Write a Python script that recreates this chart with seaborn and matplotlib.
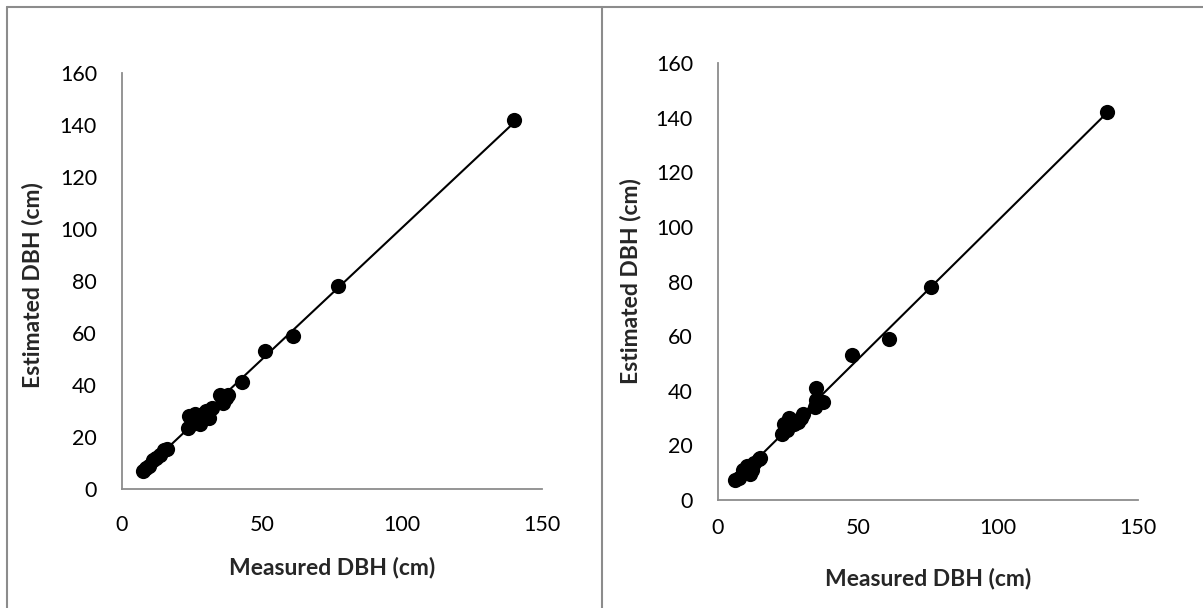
import numpy as np
import pandas as pd
import matplotlib
matplotlib.use('Agg')
import matplotlib.pyplot as plt
from matplotlib.lines import Line2D
import seaborn as sns

# data (measured vs estimated DBH, cm)
measured_a = [7.5, 8.5, 9.5, 11, 12, 13.5, 15, 16, 23.5, 24, 25, 26, 27, 28, 29, 30, 31, 32,
              35, 36, 37, 38, 43, 51, 61, 77, 140]
estimated_a = [7, 8, 9, 11, 12, 13, 15, 15.5, 23.5, 28, 25, 29, 27, 25, 29, 30, 27.5, 31,
               36, 33, 35, 36, 41, 53, 59, 78, 142]

measured_b = [6, 7.5, 9, 10.5, 11.5, 12, 13, 14.5, 15, 23, 23.5, 24.5, 25, 25.5, 27, 28.5, 29.5,
              30.5, 34.5, 35, 35, 37.5, 48, 61, 76, 139]
estimated_b = [7.5, 8, 11, 12.5, 9.5, 11, 13.5, 15, 15.5, 24, 28, 25.5, 27, 30, 28, 28.5, 30,
               31.5, 34, 36.5, 41, 36, 53, 59, 78, 142]

x_ticks = [0, 50, 100, 150]
y_ticks = [0, 20, 40, 60, 80, 100, 120, 140, 160]
x_label = 'Measured DBH (cm)'
y_label = 'Estimated DBH (cm)'

sns.set_style('white')
plt.rcParams['font.family'] = ['Lato', 'DejaVu Sans']

fig = plt.figure(figsize=(12.03, 6.08), dpi=100)
gray = '#8c8c8c'

# axes positions in figure fractions
ax1 = fig.add_axes([122 / 1203, 1 - 489 / 608, 420 / 1203, 416 / 608])
ax2 = fig.add_axes([718 / 1203, 1 - 500 / 608, 420 / 1203, 437 / 608])

panels = [(ax1, measured_a, estimated_a, (-0.212, 0.49), (0.5, -0.1875), 18.4),
          (ax2, measured_b, estimated_b, (-0.2095, 0.50), (0.5, -0.1785), 12.6)]

for ax, mx, ey, ylab_pos, xlab_pos, xpad in panels:
    df = pd.DataFrame({'measured': mx, 'estimated': ey})
    sns.regplot(data=df, x='measured', y='estimated', ax=ax, ci=None,
                scatter_kws={'s': 120, 'color': 'black', 'alpha': 1, 'linewidths': 0},
                line_kws={'color': 'black', 'linewidth': 1.5})
    ax.set_xlim(0, 150)
    ax.set_ylim(0, 160)
    ax.set_xticks(x_ticks)
    ax.set_yticks(y_ticks)
    ax.tick_params(axis='both', length=0, labelsize=15.5, colors='black')
    ax.tick_params(axis='x', pad=xpad)
    ax.tick_params(axis='y', pad=18)
    for side in ['top', 'right']:
        ax.spines[side].set_visible(False)
    for side in ['left', 'bottom']:
        ax.spines[side].set_color(gray)
        ax.spines[side].set_linewidth(1.3)
    ax.set_xlabel(x_label, fontsize=16.5, fontweight='bold')
    ax.set_ylabel(y_label, fontsize=16.5, fontweight='bold')
    ax.yaxis.set_label_coords(*ylab_pos)
    ax.xaxis.set_label_coords(*xlab_pos)
    ax.xaxis.label.set_va('center')
    ax.yaxis.label.set_va('center')

# chart frame borders
fig.add_artist(Line2D([7 / 1203, 1], [1 - 7 / 608, 1 - 7 / 608], color=gray, lw=1.5))
fig.add_artist(Line2D([7 / 1203, 7 / 1203], [0, 1 - 7 / 608], color=gray, lw=1.5))
fig.add_artist(Line2D([602 / 1203, 602 / 1203], [0, 1 - 7 / 608], color=gray, lw=1.5))

fig.savefig('out.png', dpi=100)
